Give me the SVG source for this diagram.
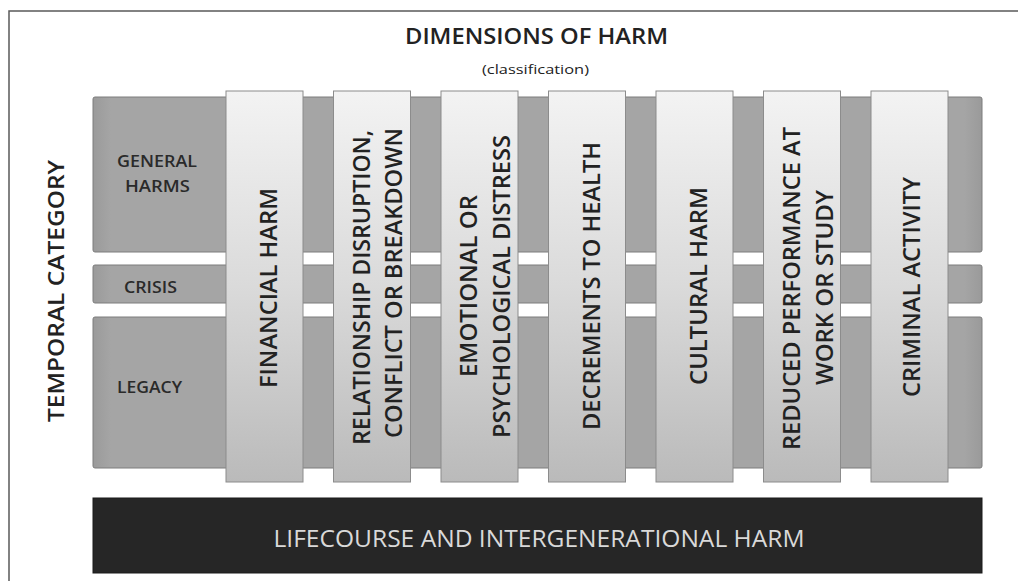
<svg xmlns="http://www.w3.org/2000/svg" width="1018" height="581" viewBox="0 0 1018 581">
<defs>
<linearGradient id="colg" x1="0" y1="0" x2="0" y2="1">
<stop offset="0" stop-color="#f3f3f3"/>
<stop offset="0.5" stop-color="#dadada"/>
<stop offset="1" stop-color="#bababa"/>
</linearGradient>
<linearGradient id="barg" x1="0" y1="0" x2="1" y2="0">
<stop offset="0" stop-color="#9a9a9a"/>
<stop offset="0.02" stop-color="#a5a5a5"/>
<stop offset="0.98" stop-color="#a5a5a5"/>
<stop offset="1" stop-color="#9a9a9a"/>
</linearGradient>
<style>
.bar{fill:url(#barg);stroke:#7d7d7d;stroke-width:1}
.col{fill:url(#colg);stroke:#8c8c8c;stroke-width:1}
.t{font-family:"Open Sans","Liberation Sans",sans-serif;fill:#222222}
.ct{font-size:23px;text-anchor:middle;font-weight:600}
.rl{font-size:17px;text-anchor:middle;font-weight:600;fill:#2a2a2a}
.frame{fill:none;stroke:#5a5a5a;stroke-width:1.5}
</style>
</defs>
<rect width="1018" height="581" fill="#ffffff"/>
<path class="frame" d="M9,581 V11 H1018"/>
<g id="title">
<text class="t" x="536.5" y="44" font-size="21" font-weight="600" text-anchor="middle" textLength="263" lengthAdjust="spacingAndGlyphs">DIMENSIONS OF HARM</text>
<text class="t" x="535.5" y="74" font-size="13.5" text-anchor="middle" textLength="107" lengthAdjust="spacingAndGlyphs">(classification)</text>
</g>
<g id="temporal-category">
<text class="t" transform="translate(64,291) rotate(-90)" x="0" y="0" font-size="22" font-weight="600" text-anchor="middle" textLength="262" lengthAdjust="spacingAndGlyphs">TEMPORAL CATEGORY</text>
</g>
<g id="row-general">
<rect class="bar" x="93" y="97" width="889" height="155" rx="2"/>
<text class="t rl" x="157" y="167" textLength="80" lengthAdjust="spacingAndGlyphs">GENERAL</text>
<text class="t rl" x="157.5" y="192" textLength="65" lengthAdjust="spacingAndGlyphs">HARMS</text>
</g>
<g id="row-crisis">
<rect class="bar" x="93" y="265" width="889" height="38" rx="2"/>
<text class="t rl" x="150.5" y="293" textLength="53" lengthAdjust="spacingAndGlyphs">CRISIS</text>
</g>
<g id="row-legacy">
<rect class="bar" x="93" y="317" width="889" height="151" rx="2"/>
<text class="t rl" x="149.5" y="393" textLength="65" lengthAdjust="spacingAndGlyphs">LEGACY</text>
</g>
<g id="col-financial">
<rect class="col" x="226" y="91" width="77" height="391"/>
<text class="t ct" transform="translate(264.5,287) rotate(-90)" x="-1" y="12" textLength="200" lengthAdjust="spacingAndGlyphs">FINANCIAL HARM</text>
</g>
<g id="col-relationship">
<rect class="col" x="333.5" y="91" width="77" height="391"/>
<text class="t ct" transform="translate(372,287) rotate(-90)" x="-0.5" y="-2.5" textLength="315" lengthAdjust="spacingAndGlyphs">RELATIONSHIP DISRUPTION,</text>
<text class="t ct" transform="translate(372,287) rotate(-90)" x="4" y="30" textLength="310" lengthAdjust="spacingAndGlyphs">CONFLICT OR BREAKDOWN</text>
</g>
<g id="col-emotional">
<rect class="col" x="441" y="91" width="77" height="391"/>
<text class="t ct" transform="translate(479.5,287) rotate(-90)" x="1" y="-2.5" textLength="182" lengthAdjust="spacingAndGlyphs">EMOTIONAL OR</text>
<text class="t ct" transform="translate(479.5,287) rotate(-90)" x="0.5" y="30.5" textLength="303" lengthAdjust="spacingAndGlyphs">PSYCHOLOGICAL DISTRESS</text>
</g>
<g id="col-health">
<rect class="col" x="548.5" y="91" width="77" height="391"/>
<text class="t ct" transform="translate(587,287) rotate(-90)" x="1" y="13" textLength="288" lengthAdjust="spacingAndGlyphs">DECREMENTS TO HEALTH</text>
</g>
<g id="col-cultural">
<rect class="col" x="656" y="91" width="77" height="391"/>
<text class="t ct" transform="translate(694.5,287) rotate(-90)" x="1" y="12.5" textLength="198" lengthAdjust="spacingAndGlyphs">CULTURAL HARM</text>
</g>
<g id="col-performance">
<rect class="col" x="763.5" y="91" width="77" height="391"/>
<text class="t ct" transform="translate(802,287) rotate(-90)" x="-1.5" y="-2" textLength="323" lengthAdjust="spacingAndGlyphs">REDUCED PERFORMANCE AT</text>
<text class="t ct" transform="translate(802,287) rotate(-90)" x="-0.5" y="31" textLength="195" lengthAdjust="spacingAndGlyphs">WORK OR STUDY</text>
</g>
<g id="col-criminal">
<rect class="col" x="871" y="91" width="77" height="391"/>
<text class="t ct" transform="translate(909.5,287) rotate(-90)" x="0" y="10.5" textLength="220" lengthAdjust="spacingAndGlyphs">CRIMINAL ACTIVITY</text>
</g>
<g id="lifecourse">
<rect x="93" y="498" width="889" height="75" fill="#262626" stroke="#1a1a1a" stroke-width="1"/>
<text x="539" y="547" font-family="'Open Sans','Liberation Sans',sans-serif" font-size="23" fill="#d9d9d9" text-anchor="middle" textLength="531" lengthAdjust="spacingAndGlyphs">LIFECOURSE AND INTERGENERATIONAL HARM</text>
</g>
<g id="connectors"/>
</svg>
